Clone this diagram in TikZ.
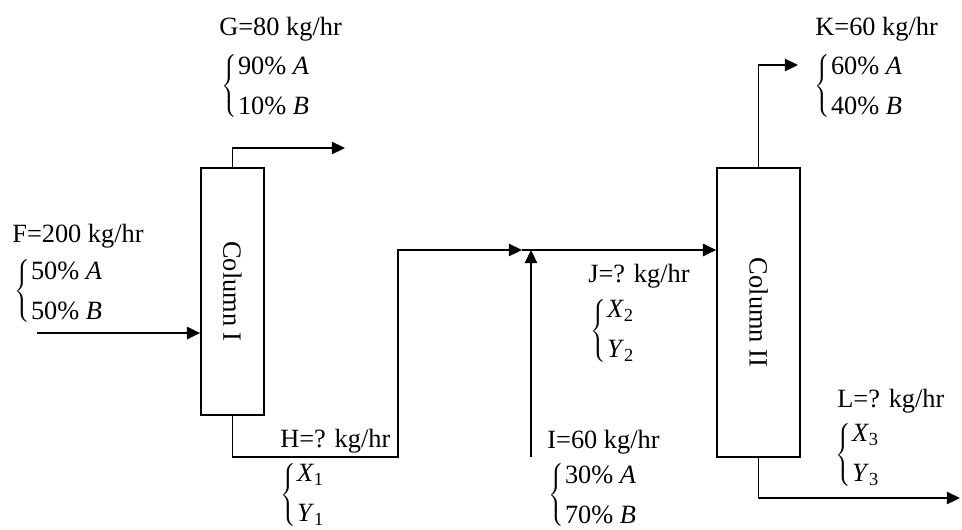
\documentclass[tikz,border=0pt]{standalone}
\usepackage{fontspec}
\setmainfont{Liberation Serif}
\usetikzlibrary{arrows.meta}

\newcommand{\compo}[2]{$\left\{\vcenter{\hbox{\rule{0pt}{37pt}}}\right.\kern-3pt
  \vcenter{\baselineskip=22.8pt\hbox{#1}\hbox{#2}}$}

\begin{document}
\begin{tikzpicture}[
    x=0.02cm, y=-0.02cm,
    >={Triangle[length=7.5pt, width=7pt]},
    every node/.style={font=\fontsize{15}{18}\selectfont, inner sep=0pt},
    tower/.style={rectangle, draw, line width=1pt, fill=white},
    flow/.style={->, line width=1pt},
    rate/.style={anchor=base west},
    mix/.style={anchor=west},
]
\useasboundingbox (0,0) rectangle (962,529);

% --- Columns ---
\node[tower, minimum width=1.26cm, minimum height=4.94cm] (colI) at (232.5,291.5) {};
\node[rotate=-90] (colIName) at (colI) {Column I};
\node[tower, minimum width=1.66cm, minimum height=5.78cm] (colII) at (758.5,312.5) {};
\node[rotate=-90] (colIIName) at (colII) {Column II};

% --- Stream end points ---
\coordinate (fIn) at (37,333);
\coordinate (gOut) at (345,148);
\coordinate (hBend) at (398,457);
\coordinate (junc) at (522,250);
\coordinate (iIn) at (531,457);
\coordinate (kOut) at (798,65);
\coordinate (lOut) at (960,498);

% --- Streams ---
\draw[flow] (fIn) -- (colI.west |- fIn);
\draw[flow] (colI.north) |- (gOut);
\draw[flow] (colI.south) |- (hBend) |- (junc);
\draw[flow] (iIn) -- (iIn |- junc);
\draw[flow] (junc) -- (colII.west |- junc);
\draw[flow] (colII.north) |- (kOut);
\draw[flow] (colII.south) |- (lOut);

% --- Stream labels ---
\node[rate] (g) at (219,35) {G=80 kg/hr};
\node[mix] (gMix) at (221,86) {\compo{90\% \textit{A}}{10\% \textit{B}}};

\node[rate] (f) at (12,242) {F=200 kg/hr};
\node[mix] (fMix) at (14,291) {\compo{50\% \textit{A}}{50\% \textit{B}}};

\node[rate] (h) at (280,447) {H=? kg/hr};
\node[mix] (hMix) at (280,495) {\compo{\textit{X}\textsubscript{1}}{\textit{Y}\textsubscript{1}}};

\node[rate] (j) at (588,282) {J=? kg/hr};
\node[mix] (jMix) at (590,331) {\compo{\textit{X}\textsubscript{2}}{\textit{Y}\textsubscript{2}}};

\node[rate] (i) at (547,448) {I=60 kg/hr};
\node[mix] (iMix) at (548,495) {\compo{30\% \textit{A}}{70\% \textit{B}}};

\node[rate] (k) at (815,35) {K=60 kg/hr};
\node[mix] (kMix) at (814,86) {\compo{60\% \textit{A}}{40\% \textit{B}}};

\node[rate] (l) at (837,407) {L=? kg/hr};
\node[mix] (lMix) at (835,455) {\compo{\textit{X}\textsubscript{3}}{\textit{Y}\textsubscript{3}}};

\end{tikzpicture}
\end{document}
